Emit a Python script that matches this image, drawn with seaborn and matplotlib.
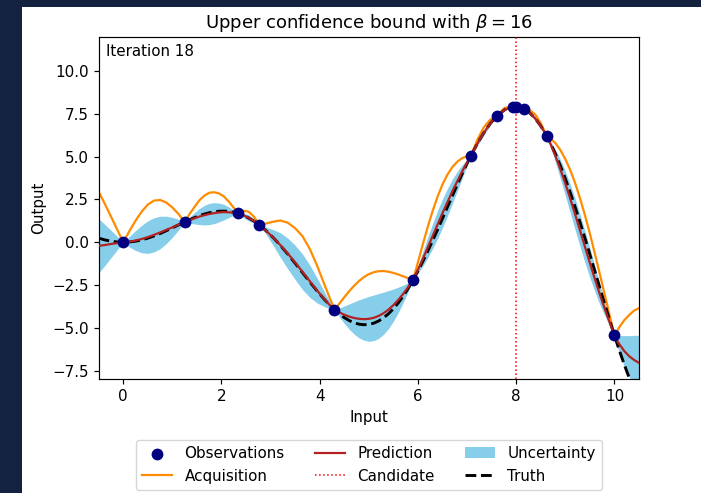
import matplotlib
matplotlib.use("Agg")
import matplotlib.pyplot as plt
from matplotlib.patches import Rectangle
import seaborn as sns
import pandas as pd

# ---- data ----
x_grid = [-0.5, -0.375, -0.25, -0.125, 0.0,
          0.125, 0.25, 0.375, 0.5, 0.625, 0.75, 0.875, 1.0, 1.125, 1.25,
          1.35, 1.45, 1.55, 1.65, 1.75, 1.85, 1.95, 2.05, 2.15, 2.25, 2.33,
          2.44, 2.55, 2.66, 2.77,
          2.9, 3.05, 3.2, 3.35, 3.5, 3.65, 3.8, 3.95, 4.1, 4.2, 4.3,
          4.4, 4.5, 4.6, 4.7, 4.8, 4.9, 5.0, 5.1, 5.2, 5.3, 5.4, 5.5, 5.6, 5.7, 5.8, 5.9,
          6.0, 6.1, 6.2, 6.3, 6.4, 6.5, 6.6, 6.7, 6.8, 6.9, 7.0, 7.08,
          7.21, 7.34, 7.47, 7.6, 7.765, 7.93, 8.0, 8.15,
          8.27, 8.385, 8.5, 8.62,
          8.7, 8.8, 8.9, 9.0, 9.1, 9.2, 9.3, 9.4, 9.5, 9.6, 9.7, 9.8, 9.9, 10.0,
          10.05, 10.1, 10.2, 10.3, 10.4, 10.5]

truth = [0.240, 0.137, 0.062, 0.016, 0.0,
         0.016, 0.062, 0.137, 0.240, 0.366, 0.511, 0.672, 0.841, 1.015, 1.186,
         1.317, 1.439, 1.550, 1.645, 1.722, 1.778, 1.812, 1.819, 1.798, 1.751, 1.690,
         1.575, 1.422, 1.233, 1.006,
         0.694, 0.279, -0.187, -0.693, -1.228, -1.777, -2.325, -2.857, -3.355, -3.661, -3.940,
         -4.187, -4.399, -4.571, -4.700, -4.782, -4.814, -4.795, -4.722, -4.594, -4.411,
         -4.173, -3.880, -3.535, -3.139, -2.695, -2.206,
         -1.676, -1.111, -0.515, 0.106, 0.746, 1.398, 2.056, 2.712, 3.360, 3.991, 4.599, 5.063,
         5.765, 6.392, 6.926, 7.356, 7.735, 7.907, 7.915, 7.796,
         7.564, 7.232, 6.787, 6.212,
         5.769, 5.147, 4.459, 3.709, 2.904, 2.051, 1.158, 0.233, -0.714, -1.673, -2.636,
         -3.592, -4.530, -5.440,
         -5.881, -6.313, -7.140, -7.907, -8.612, -9.237]

prediction = [-0.21, -0.16, -0.10, -0.05, 0.0,
              0.03, 0.10, 0.19, 0.30, 0.43, 0.57, 0.72, 0.87, 1.03, 1.186,
              1.29, 1.40, 1.50, 1.58, 1.65, 1.70, 1.74, 1.76, 1.75, 1.72, 1.690,
              1.58, 1.43, 1.24, 1.006,
              0.69, 0.28, -0.17, -0.66, -1.18, -1.73, -2.28, -2.83, -3.34, -3.66, -3.940,
              -4.10, -4.23, -4.34, -4.42, -4.47, -4.49, -4.47, -4.41, -4.30, -4.14,
              -3.93, -3.67, -3.36, -3.01, -2.62, -2.206,
              -1.60, -0.96, -0.30, 0.37, 1.04, 1.70, 2.34, 2.97, 3.56, 4.13, 4.66, 5.063,
              5.765, 6.39, 6.93, 7.356, 7.73, 7.907, 7.915, 7.796,
              7.56, 7.23, 6.79, 6.212,
              5.72, 5.03, 4.26, 3.43, 2.55, 1.63, 0.68, -0.27, -1.21, -2.13, -3.02,
              -3.86, -4.66, -5.440,
              -5.72, -5.95, -6.35, -6.65, -6.87, -7.04]

lower = [-1.79, -1.36, -0.90, -0.45, 0.0,
         -0.28, -0.48, -0.61, -0.65, -0.57, -0.38, -0.08, 0.29, 0.72, 1.186,
         1.11, 1.07, 1.03, 1.01, 1.03, 1.09, 1.19, 1.31, 1.44, 1.58, 1.690,
         1.45, 1.25, 1.11, 1.006,
         0.49, -0.18, -0.89, -1.56, -2.18, -2.77, -3.22, -3.55, -3.76, -3.88, -3.940,
         -4.36, -4.74, -5.08, -5.36, -5.58, -5.72, -5.78, -5.74, -5.61, -5.37,
         -5.04, -4.61, -4.10, -3.52, -2.88, -2.206,
         -1.82, -1.39, -0.90, -0.36, 0.22, 0.86, 1.54, 2.26, 2.99, 3.74, 4.48, 5.063,
         5.65, 6.23, 6.82, 7.356, 7.67, 7.907, 7.915, 7.796,
         7.48, 7.11, 6.71, 6.212,
         5.55, 4.66, 3.70, 2.71, 1.72, 0.72, -0.26, -1.19, -2.07, -2.87, -3.62,
         -4.27, -4.87, -5.440,
         -5.98, -6.45, -7.25, -7.85, -8.31, -8.64]

upper = [1.37, 1.04, 0.70, 0.35, 0.0,
         0.34, 0.68, 0.99, 1.25, 1.43, 1.52, 1.52, 1.45, 1.34, 1.186,
         1.47, 1.73, 1.97, 2.15, 2.27, 2.31, 2.29, 2.21, 2.06, 1.86, 1.690,
         1.71, 1.61, 1.37, 1.006,
         0.89, 0.74, 0.55, 0.24, -0.18, -0.69, -1.34, -2.11, -2.92, -3.44, -3.940,
         -3.84, -3.72, -3.60, -3.48, -3.36, -3.26, -3.16, -3.08, -2.99, -2.91,
         -2.82, -2.73, -2.62, -2.50, -2.36, -2.206,
         -1.38, -0.53, 0.30, 1.10, 1.86, 2.54, 3.14, 3.68, 4.13, 4.52, 4.84, 5.063,
         5.88, 6.55, 7.04, 7.356, 7.79, 7.907, 7.915, 7.796,
         7.64, 7.35, 6.87, 6.212,
         5.89, 5.40, 4.82, 4.15, 3.38, 2.54, 1.62, 0.65, -0.35, -1.39, -2.42,
         -3.45, -4.45, -5.440,
         -5.46, -5.45, -5.45, -5.45, -5.43, -5.44]

acquisition = [2.95, 2.24, 1.50, 0.75, 0.0,
               0.65, 1.26, 1.79, 2.20, 2.43, 2.47, 2.32, 2.03, 1.65, 1.186,
               1.65, 2.06, 2.45, 2.72, 2.89, 2.92, 2.85, 2.67, 2.37, 2.01, 1.690,
               1.84, 1.79, 1.50, 1.006,
               1.09, 1.20, 1.27, 1.14, 0.82, 0.35, -0.40, -1.39, -2.50, -3.22, -3.940,
               -3.58, -3.21, -2.86, -2.54, -2.26, -2.03, -1.86, -1.75, -1.69, -1.68,
               -1.72, -1.79, -1.88, -1.99, -2.10, -2.206,
               -1.16, -0.11, 0.91, 1.84, 2.67, 3.38, 3.95, 4.39, 4.70, 4.91, 5.02, 5.063,
               5.99, 6.71, 7.15, 7.356, 7.85, 7.907, 7.915, 7.796,
               7.72, 7.47, 6.95, 6.212,
               6.06, 5.78, 5.38, 4.86, 4.22, 3.45, 2.56, 1.57, 0.51, -0.65, -1.83,
               -3.03, -4.24, -5.440,
               -5.20, -4.95, -4.55, -4.25, -3.99, -3.84]

obs_x = [0.0, 1.25, 2.33, 2.77, 4.3, 5.9, 7.08, 7.6, 7.93, 8.0, 8.15, 8.62, 10.0]
obs_y = [0.0, 1.186, 1.690, 1.006, -3.940, -2.206, 5.063, 7.356, 7.907, 7.915, 7.796,
         6.212, -5.440]

candidate_x = 8.0
beta = 16
iteration = 18

n = len(x_grid)
for name, arr in [("truth", truth), ("prediction", prediction), ("lower", lower),
                  ("upper", upper), ("acquisition", acquisition)]:
    if len(arr) != n:
        raise ValueError(f"{name} has {len(arr)} values, expected {n}")

curves = pd.DataFrame({"x": x_grid, "truth": truth, "prediction": prediction,
                       "lower": lower, "upper": upper, "acquisition": acquisition})
obs = pd.DataFrame({"x": obs_x, "y": obs_y})

# ---- figure ----
FS = 10.9
W, H = 701, 493
fig = plt.figure(figsize=(W / 100, H / 100), dpi=100)
fig.patch.set_facecolor("#13223f")
fig.add_artist(Rectangle((22 / W, 0), 1 - 22 / W, (H - 7) / H,
                         transform=fig.transFigure, facecolor="white",
                         edgecolor="none", zorder=0))

ax = fig.add_axes([98.7 / W, 1 - 379.3 / H, (639 - 98.7) / W, (379.3 - 36.7) / H])

ax.fill_between(curves["x"], curves["lower"], curves["upper"],
                color="skyblue", linewidth=0, label="Uncertainty", zorder=1)
sns.lineplot(data=curves, x="x", y="acquisition", ax=ax, color="darkorange",
             linewidth=1.6, sort=False, estimator=None, label="Acquisition", zorder=2)
sns.lineplot(data=curves, x="x", y="truth", ax=ax, color="black", linestyle="--",
             linewidth=2.1, sort=False, estimator=None, label="Truth", zorder=3)
sns.lineplot(data=curves, x="x", y="prediction", ax=ax, color="firebrick",
             linewidth=1.6, sort=False, estimator=None, label="Prediction", zorder=4)
ax.axvline(candidate_x, color="red", linestyle=":", linewidth=1.1, label="Candidate", zorder=5)
sns.scatterplot(data=obs, x="x", y="y", ax=ax, color="navy", s=72, edgecolor="navy",
                linewidth=0, label="Observations", zorder=6)

ax.set_xlim(-0.5, 10.5)
ax.set_ylim(-8, 12)
ax.set_xticks([0, 2, 4, 6, 8, 10])
ax.set_yticks([-7.5, -5.0, -2.5, 0.0, 2.5, 5.0, 7.5, 10.0])
ax.tick_params(labelsize=FS, length=3.8, width=0.85)
for s in ax.spines.values():
    s.set_linewidth(0.85)
ax.set_xlabel("Input", fontsize=FS)
ax.set_ylabel("Output", fontsize=FS)
ax.set_title(r"Upper confidence bound with $\beta = %d$" % beta, fontsize=13)
ax.text(0.013, 0.978, "Iteration %d" % iteration, transform=ax.transAxes,
        ha="left", va="top", fontsize=FS)

handles, labels = ax.get_legend_handles_labels()
hmap = dict(zip(labels, handles))
order = ["Observations", "Acquisition", "Prediction", "Candidate", "Uncertainty", "Truth"]
ax.legend([hmap[k] for k in order], order, loc="upper center",
          bbox_to_anchor=(0.5, -0.177), borderaxespad=0, ncol=3, fontsize=FS)

fig.savefig("out.png", dpi=100, facecolor=fig.get_facecolor())
